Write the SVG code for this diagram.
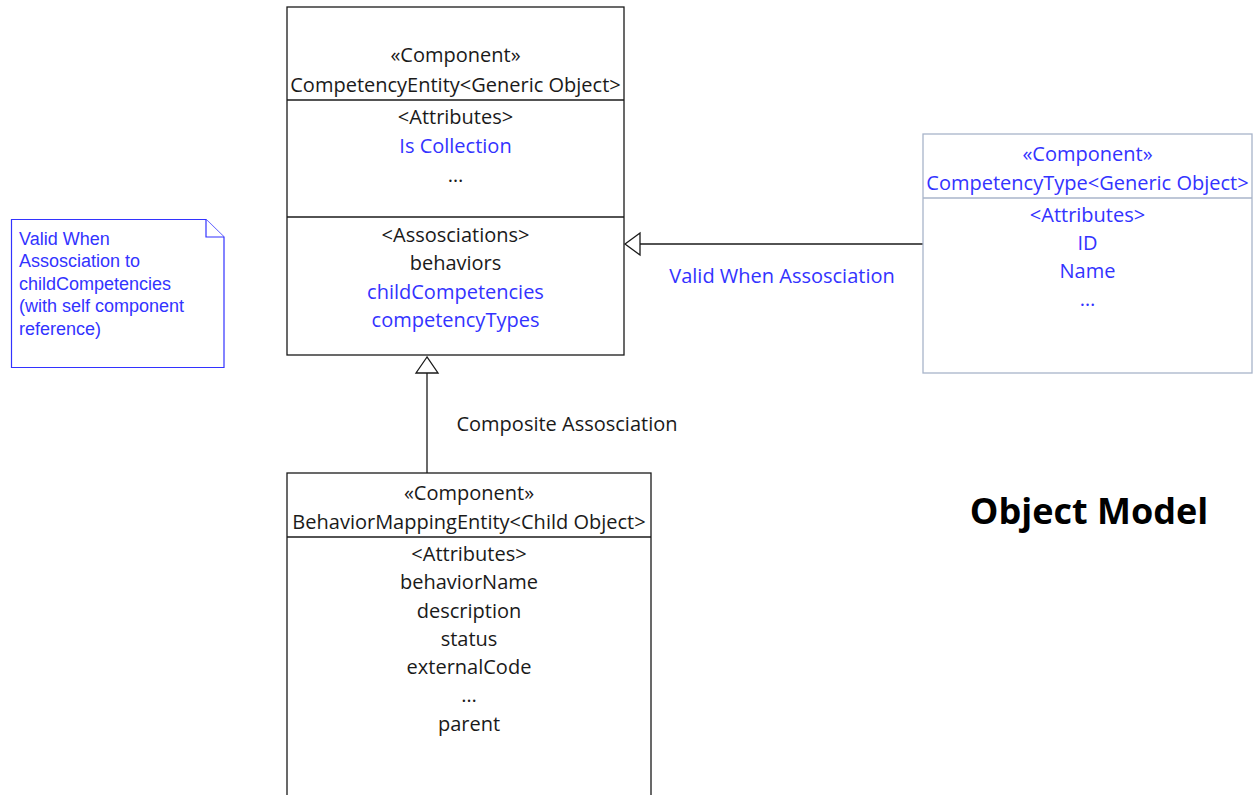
<svg xmlns="http://www.w3.org/2000/svg" width="1257" height="795" viewBox="0 0 1257 795">
<style>
.box{fill:#fff;stroke:#1a1a1a;stroke-width:1.3}
.boxb{fill:#fff;stroke:#a8b4ca;stroke-width:1.3}
.div{stroke:#1a1a1a;stroke-width:1.3}
.divb{stroke:#a8b4ca;stroke-width:1.3}
.t{font-family:"Open Sans","Noto Sans",sans-serif;font-size:20px;fill:#1a1a1a;text-anchor:middle}
.b{fill:#3333ff}
.note{fill:#fff;stroke:#3333ff;stroke-width:1.2}
.nt{font-family:"Liberation Sans",Arial,sans-serif;font-size:18px;fill:#3333ff}
.conn{stroke:#1a1a1a;stroke-width:1.3;fill:none}
.head{fill:#fff;stroke:#1a1a1a;stroke-width:1.3}
.title{font-family:"Open Sans","Noto Sans",sans-serif;font-size:36px;font-weight:bold;fill:#000;text-anchor:middle}
</style>
<rect width="1257" height="795" fill="#fff"/>
<g id="connectors">
<line class="conn" x1="640" y1="244" x2="923" y2="244"/>
<polygon class="head" points="625,244 640,233 640,255"/>
<line class="conn" x1="427" y1="373" x2="427" y2="473"/>
<polygon class="head" points="427,357 416,373 438,373"/>
<text class="t b" x="782" y="283">Valid When Assosciation</text>
<text class="t" x="567" y="431">Composite Assosciation</text>
</g>
<g id="competencyEntity">
<rect class="box" x="287" y="7" width="337" height="348"/>
<line class="div" x1="287" y1="100" x2="624" y2="100"/>
<line class="div" x1="287" y1="217" x2="624" y2="217"/>
<text class="t" x="455.5" y="62">«Component»</text>
<text class="t" x="455.5" y="92">CompetencyEntity&lt;Generic Object&gt;</text>
<text class="t" x="455.5" y="124">&lt;Attributes&gt;</text>
<text class="t b" x="455.5" y="153">Is Collection</text>
<text class="t" x="455.5" y="182">…</text>
<text class="t" x="455.5" y="242">&lt;Assosciations&gt;</text>
<text class="t" x="455.5" y="270">behaviors</text>
<text class="t b" x="455.5" y="299">childCompetencies</text>
<text class="t b" x="455.5" y="327">competencyTypes</text>
</g>
<g id="competencyType">
<rect class="boxb" x="923" y="134" width="329" height="239"/>
<line class="divb" x1="923" y1="198" x2="1252" y2="198"/>
<text class="t b" x="1087.5" y="161">«Component»</text>
<text class="t b" x="1087.5" y="190">CompetencyType&lt;Generic Object&gt;</text>
<text class="t b" x="1087.5" y="222">&lt;Attributes&gt;</text>
<text class="t b" x="1087.5" y="250">ID</text>
<text class="t b" x="1087.5" y="278">Name</text>
<text class="t b" x="1087.5" y="306">…</text>
</g>
<g id="behaviorMappingEntity">
<rect class="box" x="287" y="473" width="364" height="330"/>
<line class="div" x1="287" y1="537" x2="651" y2="537"/>
<text class="t" x="469" y="500">«Component»</text>
<text class="t" x="469" y="529">BehaviorMappingEntity&lt;Child Object&gt;</text>
<text class="t" x="469" y="561">&lt;Attributes&gt;</text>
<text class="t" x="469" y="589">behaviorName</text>
<text class="t" x="469" y="618">description</text>
<text class="t" x="469" y="646">status</text>
<text class="t" x="469" y="674">externalCode</text>
<text class="t" x="469" y="702">…</text>
<text class="t" x="469" y="731">parent</text>
</g>
<g id="note">
<path class="note" d="M11.5,219.5 H206 L224,237 V367.5 H11.5 Z"/>
<path class="note" d="M206,219.5 V237 H224"/>
<text class="nt" x="19" y="245">Valid When</text>
<text class="nt" x="19" y="267">Assosciation to</text>
<text class="nt" x="19" y="290">childCompetencies</text>
<text class="nt" x="19" y="312">(with self component</text>
<text class="nt" x="19" y="335">reference)</text>
</g>
<g id="title">
<text class="title" x="1089" y="524">Object Model</text>
</g>
</svg>
